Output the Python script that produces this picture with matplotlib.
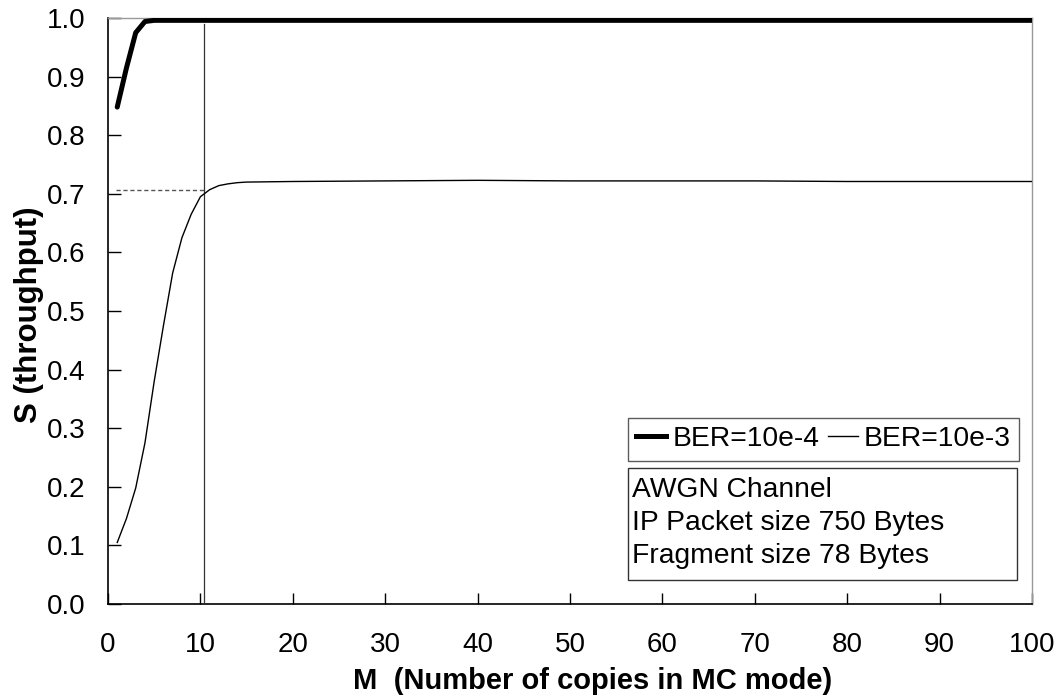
import matplotlib
matplotlib.use("Agg")
import matplotlib.pyplot as plt
from matplotlib.patches import Rectangle
from matplotlib.lines import Line2D

plt.rcParams['font.family'] = ['Liberation Sans', 'DejaVu Sans']

# Data
m_hi = [1, 2, 3, 4, 5, 6, 8, 10, 15, 20, 30, 40, 50, 60, 70, 80, 90, 100]
s_ber4 = [0.848, 0.915, 0.975, 0.994, 0.996, 0.996, 0.996, 0.996, 0.996, 0.996,
          0.996, 0.996, 0.996, 0.996, 0.996, 0.996, 0.996, 0.996]

m_lo = [1, 2, 3, 4, 5, 6, 7, 8, 9, 10, 11, 12, 13, 14, 15, 20, 30, 40, 50, 60, 70, 80, 90, 100]
s_ber3 = [0.105, 0.146, 0.198, 0.275, 0.38, 0.475, 0.565, 0.625, 0.665, 0.695,
          0.707, 0.714, 0.717, 0.719, 0.720, 0.721, 0.722, 0.723, 0.722, 0.722,
          0.722, 0.721, 0.721, 0.721]

marker_m = 10.4
marker_s = 0.707

series_labels = ['BER=10e-4', 'BER=10e-3']
info_lines = ['AWGN Channel', 'IP Packet size 750 Bytes', 'Fragment size 78 Bytes']
xticks = list(range(0, 101, 10))
yticks = [round(0.1 * i, 1) for i in range(11)]

fig = plt.figure(figsize=(10.64, 6.97), dpi=100)
ax = fig.add_axes([108 / 1064, 1 - 604 / 697, (1032 - 108) / 1064, (604 - 18) / 697])

ax.plot(m_hi, s_ber4, color='black', lw=3.6, solid_capstyle='round', zorder=4)
ax.plot(m_lo, s_ber3, color='black', lw=1.0, zorder=4)

ax.plot([marker_m, marker_m], [0, 0.99], color='#333333', lw=0.9, zorder=3)
ax.plot([0.9, marker_m], [marker_s, marker_s], color='#555555', lw=1.0,
        ls=(0, (3, 2)), zorder=3)

ax.set_xlim(0, 100)
ax.set_ylim(0, 1.0)
ax.set_xticks(xticks)
ax.set_yticks(yticks)
ax.set_yticklabels([f'{v:.1f}' for v in yticks])
ax.tick_params(axis='x', direction='in', length=8, width=1, pad=20, labelsize=20)
ax.tick_params(axis='y', direction='in', length=9, width=1, pad=16, labelsize=20)

for side in ['left', 'bottom']:
    ax.spines[side].set_color('black')
    ax.spines[side].set_linewidth(1.2)
for side in ['top', 'right']:
    ax.spines[side].set_color('#999999')
    ax.spines[side].set_linewidth(1.0)

fig.text(593 / 1064, 1 - 681 / 697, 'M  (Number of copies in MC mode)',
         ha='center', va='center', fontsize=21, fontweight='bold')
fig.text(29 / 1064, 1 - 315 / 697, 'S (throughput)', rotation=90,
         ha='center', va='center', fontsize=22.5, fontweight='bold')

# Legend box
h1 = Line2D([], [], color='black', lw=3.6)
h2 = Line2D([], [], color='black', lw=1.0)
leg = ax.legend([h1, h2], series_labels, ncol=2, loc='upper left',
                bbox_to_anchor=((627.7 - 108) / 924, (604 - 417.7) / 586),
                fontsize=20.3, frameon=True, fancybox=False, edgecolor='#333333',
                handlelength=1.06, handletextpad=0.22, columnspacing=0.3,
                borderpad=0.3, borderaxespad=0.0)
leg.get_frame().set_linewidth(1.0)

# Info box
x0 = (627.7 - 108) / 924
x1 = (1016.7 - 108) / 924
y0 = (604 - 580) / 586
y1 = (604 - 467.7) / 586
ax.add_patch(Rectangle((x0, y0), x1 - x0, y1 - y0, transform=ax.transAxes,
                       fill=True, facecolor='white', edgecolor='#333333', lw=1.0, zorder=5))
for i, line in enumerate(info_lines):
    yc = 490 + i * 33
    ax.text((632 - 108) / 924, (604 - yc) / 586, line, transform=ax.transAxes,
            ha='left', va='center', fontsize=20.3, zorder=6)

fig.savefig('out.png', dpi=100)
